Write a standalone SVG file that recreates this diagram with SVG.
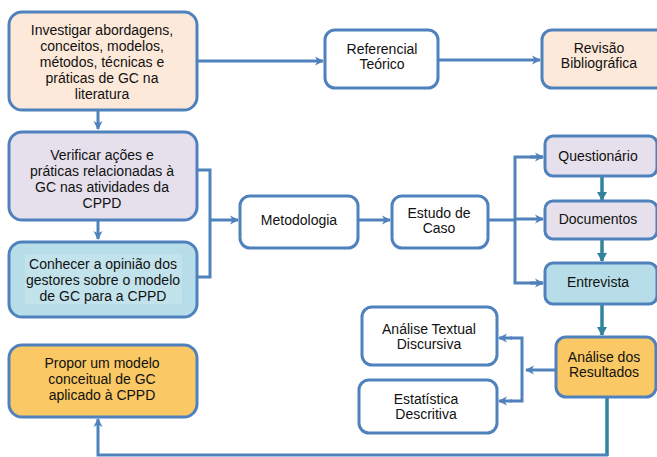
<svg xmlns="http://www.w3.org/2000/svg" width="657" height="457" viewBox="0 0 657 457">
  <defs>
    <marker id="ah" markerWidth="10" markerHeight="10" refX="8" refY="5" orient="auto" markerUnits="userSpaceOnUse" viewBox="0 0 10 10">
      <path d="M0,0.5 L9,5 L0,9.5 L2.5,5 Z" fill="#4F81BD"/>
    </marker>
    <marker id="ahT" markerWidth="10" markerHeight="10" refX="8" refY="5" orient="auto" markerUnits="userSpaceOnUse" viewBox="0 0 10 10">
      <path d="M0,0 L9,5 L0,10 Z" fill="#31849B"/>
    </marker>
  </defs>
  <style>
    .box { stroke: #4F81BD; stroke-width: 3; }
    .white { fill: #FFFFFF; }
    .peach { fill: #FDE9D9; }
    .lav { fill: #E5E0EC; }
    .blue { fill: #B7DEE8; }
    .orange { fill: #FAC864; }
    .t { font-family: "Liberation Sans", Arial, sans-serif; font-size: 14px; fill: #111111; text-anchor: middle; }
    .ln { fill: none; stroke: #4F81BD; stroke-width: 3; }
    .tl { fill: none; stroke: #31849B; stroke-width: 3.5; }
  </style>

  <!-- connectors -->
  <g id="connectors">
    <line class="ln" x1="98" y1="111" x2="98" y2="129" marker-end="url(#ah)"/>
    <line class="ln" x1="197" y1="61" x2="323" y2="61" marker-end="url(#ah)"/>
    <line class="ln" x1="438" y1="60" x2="540" y2="60" marker-end="url(#ah)"/>
    <line class="ln" x1="98" y1="221" x2="98" y2="239" marker-end="url(#ah)"/>
    <polyline class="ln" points="197,170 210,170 210,277 197,277"/>
    <line class="ln" x1="210" y1="220" x2="238" y2="220" marker-end="url(#ah)"/>
    <line class="ln" x1="358" y1="220" x2="390" y2="220" marker-end="url(#ah)"/>
    <polyline class="ln" points="488,220 515,220"/>
    <polyline class="ln" points="543,157 515,157 515,283 543,283"/>
    <line class="ln" x1="515" y1="219" x2="543" y2="219" marker-end="url(#ah)"/>
    <line class="ln" x1="530" y1="157" x2="543" y2="157" marker-end="url(#ah)"/>
    <line class="ln" x1="530" y1="283" x2="543" y2="283" marker-end="url(#ah)"/>
    <line class="tl" x1="602" y1="177" x2="602" y2="200" marker-end="url(#ahT)"/>
    <line class="tl" x1="602" y1="240" x2="602" y2="261" marker-end="url(#ahT)"/>
    <line class="tl" x1="602" y1="305" x2="602" y2="335" marker-end="url(#ahT)"/>
    <line class="ln" x1="555" y1="370" x2="526" y2="370" marker-end="url(#ah)"/>
    <polyline class="ln" points="510,338 522,338 522,401 510,401"/>
    <line class="ln" x1="512" y1="338" x2="499" y2="338" marker-end="url(#ah)"/>
    <line class="ln" x1="512" y1="401" x2="499" y2="401" marker-end="url(#ah)"/>
    <line class="tl" x1="607" y1="398" x2="607" y2="456"/>
    <polyline class="ln" points="608,455 98,455 98,419" marker-end="url(#ah)"/>
  </g>

  <g id="investigar">
    <rect class="box peach" x="9" y="12" width="188" height="98" rx="13"/>
    <text class="t" x="102" y="35">Investigar abordagens,</text>
    <text class="t" x="102" y="51">conceitos, modelos,</text>
    <text class="t" x="102" y="67">métodos, técnicas e</text>
    <text class="t" x="102" y="83">práticas de GC na</text>
    <text class="t" x="102" y="99">literatura</text>
  </g>

  <g id="referencial">
    <rect class="box white" x="325" y="30" width="113" height="58" rx="10"/>
    <text class="t" x="382" y="54">Referencial</text>
    <text class="t" x="382" y="69">Teórico</text>
  </g>

  <g id="revisao">
    <rect class="box peach" x="542" y="30" width="125" height="58" rx="10"/>
    <text class="t" x="599" y="53">Revisão</text>
    <text class="t" x="599" y="68">Bibliográfica</text>
  </g>

  <g id="verificar">
    <rect class="box lav" x="9" y="132" width="188" height="88" rx="13"/>
    <text class="t" x="102" y="160">Verificar ações e</text>
    <text class="t" x="102" y="176">práticas relacionadas à</text>
    <text class="t" x="102" y="192">GC nas atividades da</text>
    <text class="t" x="102" y="208">CPPD</text>
  </g>

  <g id="conhecer">
    <rect class="box blue" x="9" y="242" width="188" height="75" rx="13"/>
    <rect x="25" y="254" width="157" height="50" fill="#C2E3EC"/>
    <text class="t" x="103" y="269">Conhecer a opinião dos</text>
    <text class="t" x="103" y="285">gestores sobre o modelo</text>
    <text class="t" x="103" y="301">de GC para a CPPD</text>
  </g>

  <g id="propor">
    <rect class="box orange" x="9" y="345" width="188" height="72" rx="13"/>
    <text class="t" x="102" y="368">Propor um modelo</text>
    <text class="t" x="102" y="384">conceitual de GC</text>
    <text class="t" x="102" y="400">aplicado à CPPD</text>
  </g>

  <g id="metodologia">
    <rect class="box white" x="240" y="196" width="118" height="52" rx="10"/>
    <text class="t" x="299" y="225">Metodologia</text>
  </g>

  <g id="estudo">
    <rect class="box white" x="392" y="196" width="96" height="52" rx="10"/>
    <text class="t" x="439" y="218">Estudo de</text>
    <text class="t" x="439" y="233">Caso</text>
  </g>

  <g id="questionario">
    <rect class="box lav" x="545" y="136" width="112" height="40" rx="8"/>
    <text class="t" x="598" y="161">Questionário</text>
  </g>

  <g id="documentos">
    <rect class="box lav" x="545" y="201" width="112" height="38" rx="8"/>
    <text class="t" x="598" y="224">Documentos</text>
  </g>

  <g id="entrevista">
    <rect class="box blue" x="545" y="263" width="112" height="41" rx="8"/>
    <text class="t" x="598" y="287">Entrevista</text>
  </g>

  <g id="analise-resultados">
    <rect class="box orange" x="556" y="337" width="100" height="60" rx="10"/>
    <text class="t" x="604" y="362">Análise dos</text>
    <text class="t" x="604" y="377">Resultados</text>
  </g>

  <g id="analise-textual">
    <rect class="box white" x="362" y="307" width="135" height="58" rx="10"/>
    <text class="t" x="429" y="334">Análise Textual</text>
    <text class="t" x="429" y="349">Discursiva</text>
  </g>

  <g id="estatistica">
    <rect class="box white" x="359" y="380" width="138" height="53" rx="10"/>
    <text class="t" x="426" y="404">Estatística</text>
    <text class="t" x="426" y="419">Descritiva</text>
  </g>
</svg>
